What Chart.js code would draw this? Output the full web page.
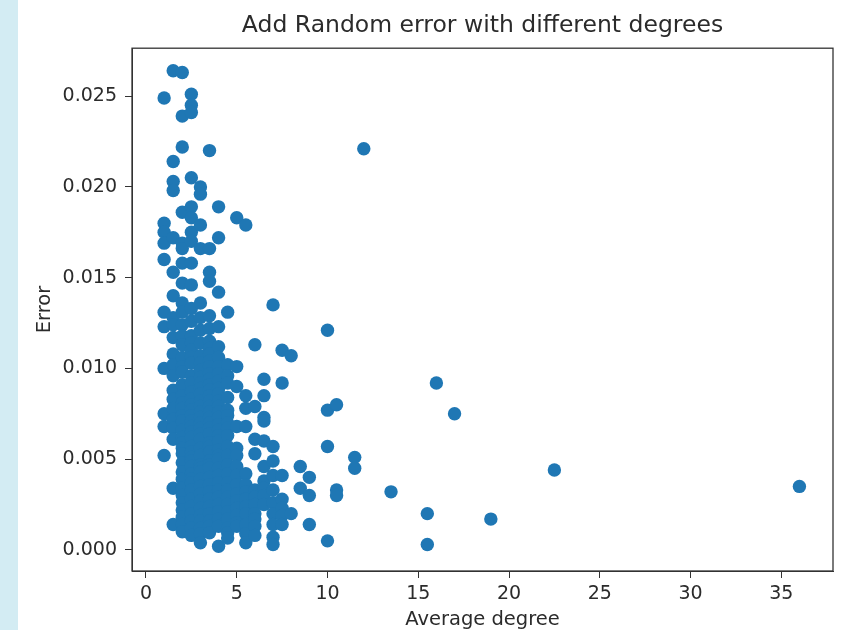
<!DOCTYPE html>
<html>
<head>
<meta charset="utf-8">
<title>Add Random error with different degrees</title>
<script src="https://cdn.jsdelivr.net/npm/chart.js@4"></script>
<style>
    html, body { margin: 0; padding: 0; background: #ffffff; overflow: hidden; }
    #strip { position: absolute; left: 0; top: 0; width: 18px; height: 630px; background: #d3ecf3; }
    #wrap { position: absolute; left: 0; top: 0; width: 845px; height: 630px; }
</style>
</head>
<body>
<div id="strip"></div>
<div id="wrap"><canvas id="errorChart" width="845" height="630"></canvas></div>
<script>
// Values, one error list per average degree
const degrees = [1, 1.5, 2, 2.5, 3, 3.5, 4, 4.5, 5, 5.5, 6, 6.5, 7, 7.5, 8, 8.5, 9, 10, 10.5, 11.5, 12, 13.5, 15.5, 16, 17, 19, 22.5, 36];
const errorsByDegree = [
    [0.0249, 0.018, 0.0175, 0.0169, 0.016, 0.0131, 0.0123, 0.01, 0.0075, 0.0068, 0.0052],
    [0.0264, 0.0214, 0.0203, 0.0198, 0.0172, 0.0153, 0.014, 0.0128, 0.0124, 0.0117, 0.0108, 0.0102, 0.0096, 0.0088, 0.0083, 0.0078, 0.0072, 0.0067, 0.0061, 0.0034, 0.0014],
    [0.0263, 0.0239, 0.0222, 0.0186, 0.0169, 0.0166, 0.0158, 0.0147, 0.0136, 0.0131, 0.0124, 0.0118, 0.0113, 0.0106, 0.0101, 0.0098, 0.0091, 0.0085, 0.0081, 0.0078, 0.0074, 0.0071, 0.0066, 0.0062, 0.0059, 0.0056, 0.0053, 0.0048, 0.0043, 0.0039, 0.0034, 0.003, 0.0026, 0.0022, 0.0018, 0.0014, 0.001],
    [0.0251, 0.0245, 0.0241, 0.0205, 0.0189, 0.0183, 0.0175, 0.017, 0.0158, 0.0146, 0.0133, 0.0126, 0.0118, 0.0114, 0.011, 0.0106, 0.0103, 0.0096, 0.0092, 0.0087, 0.0083, 0.008, 0.0077, 0.0074, 0.0071, 0.0068, 0.0065, 0.0062, 0.0057, 0.0054, 0.0051, 0.0049, 0.0046, 0.0042, 0.0039, 0.0037, 0.0033, 0.0028, 0.0024, 0.002, 0.0016, 0.0012, 0.0008],
    [0.02, 0.0196, 0.0179, 0.0166, 0.0136, 0.0128, 0.0121, 0.0114, 0.0107, 0.0103, 0.0099, 0.0095, 0.0092, 0.0089, 0.0086, 0.0082, 0.0079, 0.0076, 0.0073, 0.007, 0.0067, 0.0064, 0.0061, 0.0056, 0.0052, 0.0047, 0.0045, 0.0043, 0.0039, 0.0035, 0.0031, 0.0027, 0.0023, 0.0019, 0.0016, 0.0012, 0.0009, 0.0004],
    [0.022, 0.0166, 0.0153, 0.0148, 0.0129, 0.0122, 0.0115, 0.0111, 0.0108, 0.0104, 0.0101, 0.0097, 0.0094, 0.0091, 0.0088, 0.0085, 0.0082, 0.0079, 0.0076, 0.0073, 0.007, 0.0067, 0.0064, 0.0059, 0.0057, 0.0054, 0.0049, 0.0047, 0.0045, 0.004, 0.0036, 0.0032, 0.0028, 0.0024, 0.002, 0.0016, 0.0013, 0.00095],
    [0.0189, 0.0172, 0.0142, 0.0123, 0.0112, 0.0106, 0.0101, 0.0097, 0.0093, 0.0089, 0.0086, 0.0082, 0.0079, 0.0076, 0.0073, 0.0069, 0.0066, 0.0063, 0.006, 0.0055, 0.0052, 0.005, 0.0045, 0.0041, 0.0037, 0.0033, 0.0029, 0.0025, 0.0021, 0.0017, 0.0013, 0.0002],
    [0.0131, 0.0102, 0.0096, 0.0092, 0.0084, 0.0077, 0.0074, 0.007, 0.0067, 0.0063, 0.0057, 0.0052, 0.0047, 0.0042, 0.0037, 0.0033, 0.0029, 0.0025, 0.0021, 0.0017, 0.0012, 0.00095, 0.00066],
    [0.0183, 0.0101, 0.009, 0.0068, 0.0056, 0.0052, 0.0046, 0.0041, 0.0036, 0.0031, 0.0027, 0.0023, 0.0019, 0.0015, 0.0013],
    [0.0179, 0.0085, 0.0078, 0.0068, 0.0042, 0.0036, 0.0032, 0.0028, 0.0024, 0.002, 0.0014, 0.0009, 0.0004],
    [0.0113, 0.0079, 0.0061, 0.0053, 0.0033, 0.0029, 0.0025, 0.002, 0.0017, 0.0013, 0.0008],
    [0.0094, 0.0085, 0.0073, 0.0071, 0.006, 0.0046, 0.0038, 0.0034, 0.003, 0.0025],
    [0.0135, 0.0057, 0.0049, 0.0041, 0.0033, 0.0026, 0.002, 0.0014, 0.0007, 0.0003],
    [0.011, 0.0092, 0.0041, 0.0028, 0.0023, 0.0019, 0.0014],
    [0.0107, 0.002],
    [0.0046, 0.0034],
    [0.004, 0.003, 0.0014],
    [0.0121, 0.0077, 0.0057, 0.0005],
    [0.008, 0.0033, 0.003],
    [0.0051, 0.0045],
    [0.0221],
    [0.0032],
    [0.002, 0.0003],
    [0.0092],
    [0.0075],
    [0.0017],
    [0.0044],
    [0.0035]
];
const xTicks = [0, 5, 10, 15, 20, 25, 30, 35];
const yTicks = [0, 0.005, 0.01, 0.015, 0.02, 0.025];

const points = [];
degrees.forEach((degree, i) => {
    errorsByDegree[i].forEach(error => points.push({ x: degree, y: error }));
});

const textColor = '#2b2b2b';
const axisColor = '#333333';
const fontFamily = '"DejaVu Sans", sans-serif';

// Closes the frame on the top and right like the original axes box,
// and centres the title over the plot instead of the whole canvas
const frameBox = {
    id: 'frameBox',
    afterLayout(chart) {
        chart.titleBlock.left = chart.chartArea.left;
        chart.titleBlock.right = chart.chartArea.right;
    },
    afterDatasetsDraw(chart) {
        const { ctx, chartArea } = chart;
        ctx.save();
        ctx.strokeStyle = axisColor;
        ctx.lineWidth = 1.3;
        ctx.strokeRect(chartArea.left, chartArea.top, chartArea.right - chartArea.left, chartArea.bottom - chartArea.top);
        ctx.restore();
    }
};

new Chart(document.getElementById('errorChart').getContext('2d'), {
    type: 'scatter',
    data: {
        datasets: [{
            label: 'Error',
            data: points,
            backgroundColor: '#1f77b4',
            borderColor: '#1f77b4',
            borderWidth: 0,
            pointRadius: 6.7
        }]
    },
    options: {
        responsive: false,
        animation: false,
        layout: { padding: { top: 0, right: 12, bottom: 0, left: 0 } },
        plugins: {
            legend: { display: false },
            tooltip: { enabled: false },
            title: {
                display: true,
                text: 'Add Random error with different degrees',
                color: textColor,
                font: { family: fontFamily, size: 23.5, weight: 'normal', lineHeight: 1.2 },
                padding: { top: 12, bottom: 8 }
            }
        },
        scales: {
            x: {
                type: 'linear',
                min: -0.77,
                max: 37.85,
                afterBuildTicks: s => { s.ticks = xTicks.map(v => ({ value: v })); },
                afterFit: s => { s.height = 59; },
                grid: { drawOnChartArea: false, color: axisColor, tickLength: 7 },
                border: { color: axisColor },
                ticks: { color: textColor, font: { family: fontFamily, size: 19 }, maxRotation: 0, autoSkip: false, padding: 5 },
                title: { display: true, text: 'Average degree', color: textColor, font: { family: fontFamily, size: 19.5, lineHeight: 1.05 }, padding: { top: 2, bottom: 0 } }
            },
            y: {
                type: 'linear',
                min: -0.00116,
                max: 0.02764,
                afterBuildTicks: s => { s.ticks = yTicks.map(v => ({ value: v })); },
                afterFit: s => { s.width = 132; },
                grid: { drawOnChartArea: false, color: axisColor, tickLength: 7 },
                border: { color: axisColor },
                ticks: { color: textColor, font: { family: fontFamily, size: 19 }, autoSkip: false, padding: 8, callback: v => v.toFixed(3) },
                title: { display: true, text: 'Error', color: textColor, font: { family: fontFamily, size: 19.5 }, padding: { top: 33, bottom: 0 } }
            }
        }
    },
    plugins: [frameBox]
});
</script>
</body>
</html>
